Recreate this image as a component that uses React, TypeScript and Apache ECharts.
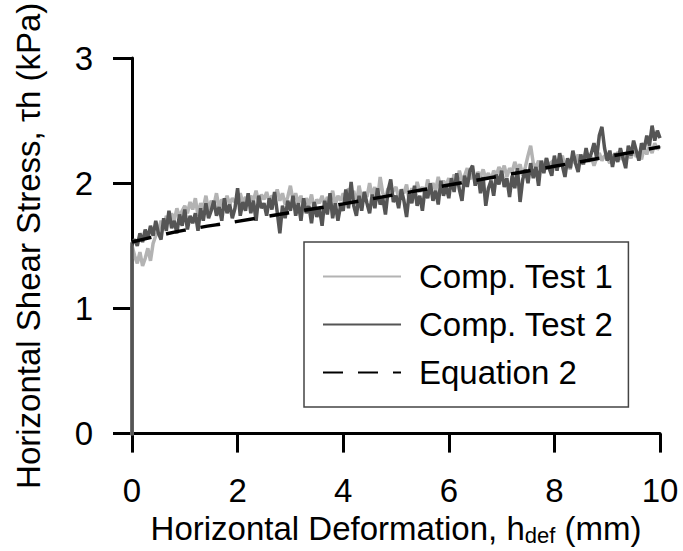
import React, { useEffect, useRef } from "react";
import * as echarts from "echarts";

// Sampling step of the recorded tests (mm)
const STEP = 0.05;
const START_VALUE = -0.08;

const test1Values = [
  1.50, 1.42, 1.36, 1.45, 1.34, 1.40, 1.48, 1.38, 1.52, 1.58, 1.62, 1.70, 1.64, 1.74, 1.68, 1.76, 1.70, 1.80, 1.73, 1.78,
  1.82, 1.76, 1.85, 1.79, 1.88, 1.74, 1.84, 1.80, 1.90, 1.78, 1.86, 1.82, 1.92, 1.80, 1.87, 1.84, 1.90, 1.83, 1.88, 1.85,
  1.86, 1.92, 1.84, 1.89, 1.82, 1.90, 1.86, 1.94, 1.84, 1.91, 1.87, 1.93, 1.85, 1.90, 1.88, 1.95, 1.86, 1.92, 1.83, 1.89,
  1.98, 1.86, 1.92, 1.84, 1.90, 1.80, 1.88, 1.83, 1.91, 1.79, 1.87, 1.84, 1.90, 1.82, 1.89, 1.85, 1.94, 1.83, 1.90, 1.86,
  1.92, 1.85, 1.96, 1.88, 1.94, 1.83, 1.98, 1.87, 1.93, 1.89, 2.00, 1.90, 1.97, 1.86, 2.05, 1.92, 1.88, 1.96, 1.90, 1.94,
  1.97, 1.88, 1.95, 1.92, 1.99, 1.86, 1.96, 1.90, 2.01, 1.93, 1.97, 1.91, 2.03, 1.95, 2.00, 1.94, 2.05, 1.96, 2.02, 1.98,
  2.04, 1.97, 2.07, 2.00, 2.10, 2.02, 2.06, 2.12, 2.03, 2.08, 2.01, 2.09, 2.05, 2.11, 2.04, 2.08, 2.02, 2.10, 2.06, 2.13,
  2.08, 2.14, 2.05, 2.12, 2.09, 2.17, 2.11, 2.15, 2.06, 2.13, 2.22, 2.30, 2.16, 2.12, 2.18, 2.10, 2.15, 2.20, 2.13, 2.17,
  2.19, 2.12, 2.16, 2.22, 2.14, 2.18, 2.11, 2.20, 2.16, 2.23, 2.15, 2.19, 2.25, 2.17, 2.21, 2.14, 2.20, 2.24, 2.18, 2.22,
  2.20, 2.16, 2.23, 2.18, 2.25, 2.19, 2.22, 2.17, 2.24, 2.20, 2.27, 2.21, 2.25, 2.19, 2.28, 2.23, 2.30, 2.24, 2.32, 2.27,
  2.30,
];

const test2Values = [
  1.52, 1.55, 1.50, 1.60, 1.53, 1.63, 1.56, 1.66, 1.58, 1.70, 1.60, 1.55, 1.72, 1.62, 1.78, 1.64, 1.70, 1.60, 1.75, 1.66,
  1.79, 1.63, 1.74, 1.68, 1.76, 1.62, 1.80, 1.70, 1.84, 1.72, 1.78, 1.86, 1.74, 1.81, 1.70, 1.88, 1.76, 1.83, 1.72, 1.80,
  1.96, 1.74, 1.85, 1.78, 1.92, 1.76, 1.86, 1.70, 1.90, 1.80, 1.84, 1.74, 1.88, 1.79, 1.93, 1.77, 1.60, 1.82, 1.72, 1.86,
  1.78, 1.90, 1.74, 1.84, 1.70, 1.88, 1.76, 1.82, 1.68, 1.85, 1.73, 1.80, 1.66, 1.86, 1.75, 1.92, 1.72, 1.84, 1.70, 1.82,
  1.78, 1.95, 1.80, 2.01, 1.82, 1.74, 1.90, 1.78, 1.93, 1.84, 1.76, 1.91, 1.80, 1.96, 1.83, 1.88, 1.75, 1.94, 2.03, 1.85,
  1.90, 1.80, 1.95, 1.86, 1.73, 1.92, 1.84, 1.98, 1.82, 1.90, 1.78, 1.96, 1.88, 2.00, 1.86, 1.94, 1.83, 2.02, 1.90, 1.97,
  1.88, 2.04, 1.93, 2.08, 1.95, 1.86, 2.06, 1.97, 2.10, 2.14, 1.98, 2.08, 1.92, 2.05, 1.82, 1.96, 2.02, 1.90, 2.07, 1.99,
  2.10, 1.97, 2.04, 1.89, 2.06, 1.96, 2.12, 1.85, 2.03, 2.11, 2.00, 2.16, 2.04, 2.13, 1.98, 2.18, 2.08, 2.20, 2.12, 2.06,
  2.22, 2.10, 2.24, 2.14, 2.05, 2.20, 2.12, 2.26, 2.16, 2.09, 2.23, 2.15, 2.28, 2.18, 2.24, 2.32, 2.20, 2.38, 2.45, 2.28,
  2.18, 2.26, 2.13, 2.24, 2.17, 2.28, 2.20, 2.12, 2.30, 2.22, 2.34, 2.26, 2.18, 2.32, 2.27, 2.38, 2.30, 2.46, 2.34, 2.42,
  2.36,
];

const equationX = [0, 0.5, 1, 2, 3, 4, 5, 6, 7, 8, 9, 10];
const equationY = [1.53, 1.58, 1.625, 1.695, 1.765, 1.835, 1.91, 1.985, 2.06, 2.135, 2.21, 2.29];

const xTicks = [0, 2, 4, 6, 8, 10];
const yTicks = [0, 1, 2, 3];

const seriesNames = ["Comp. Test 1", "Comp. Test 2", "Equation 2"];

const FONT = "'Liberation Sans', Arial, sans-serif";
const FS = 33;

function toPairs(values: number[]): [number, number][] {
  const pts: [number, number][] = [[0, START_VALUE]];
  values.forEach((v, i) => pts.push([+(i * STEP).toFixed(2), v]));
  return pts;
}

export default function App() {
  const ref = useRef<HTMLDivElement>(null);

  useEffect(() => {
    if (!ref.current) return;
    const chart = echarts.init(ref.current, null, { renderer: "svg" });
    const axisLine = { show: true, lineStyle: { color: "#000", width: 3 } };
    const axisTick = { show: true, inside: false, length: 19, lineStyle: { color: "#000", width: 3 } };
    chart.setOption({
      animation: false,
      backgroundColor: "#fff",
      textStyle: { fontFamily: FONT },
      grid: { left: 132, right: 23, top: 58, bottom: 116, containLabel: false },
      xAxis: {
        type: "value",
        min: xTicks[0],
        max: xTicks[xTicks.length - 1],
        interval: xTicks[1] - xTicks[0],
        axisLine,
        axisTick,
        splitLine: { show: false },
        axisLabel: { color: "#000", fontSize: FS, fontFamily: FONT, margin: 40 },
        name: "Horizontal Deformation, h{sub|def} (mm)",
        nameLocation: "middle",
        nameGap: 71,
        nameTextStyle: {
          color: "#000",
          fontSize: FS,
          fontFamily: FONT,
          rich: {
            sub: { fontSize: 22, fontFamily: FONT, color: "#000", padding: [14, 0, 0, 0], verticalAlign: "bottom" },
          },
        },
      },
      yAxis: {
        type: "value",
        min: yTicks[0],
        max: yTicks[yTicks.length - 1],
        interval: yTicks[1] - yTicks[0],
        axisLine,
        axisTick,
        splitLine: { show: false },
        axisLabel: { color: "#000", fontSize: FS, fontFamily: FONT, margin: 39 },
        name: "Horizontal Shear Stress, τh (kPa)",
        nameLocation: "middle",
        nameGap: 87,
        nameTextStyle: { color: "#000", fontSize: FS, fontFamily: FONT },
      },
      legend: {
        show: true,
        orient: "vertical",
        left: 304,
        top: 242,
        data: seriesNames,
        itemWidth: 78,
        itemHeight: 14,
        itemGap: 15,
        padding: [18, 15, 18, 18],
        borderColor: "#444",
        borderWidth: 1.5,
        backgroundColor: "#fff",
        itemStyle: { opacity: 0 },
        textStyle: { color: "#000", fontSize: FS, fontFamily: FONT, padding: [0, 0, 0, 13] },
      },
      series: [
        {
          name: seriesNames[0],
          type: "line",
          data: toPairs(test1Values),
          showSymbol: false,
          symbol: "none",
          lineStyle: { color: "#b3b3b3", width: 3.5 },
          itemStyle: { color: "#b3b3b3" },
          z: 2,
        },
        {
          name: seriesNames[1],
          type: "line",
          data: toPairs(test2Values),
          showSymbol: false,
          symbol: "none",
          lineStyle: { color: "#555555", width: 3.5 },
          itemStyle: { color: "#555555" },
          z: 3,
        },
        {
          name: seriesNames[2],
          type: "line",
          data: equationX.map((x, i) => [x, equationY[i]]),
          smooth: true,
          showSymbol: false,
          symbol: "none",
          lineStyle: { color: "#000", width: 3.5, type: [20, 15] },
          itemStyle: { color: "#000" },
          z: 4,
        },
      ],
    });
    return () => chart.dispose();
  }, []);

  return (
    <div
      ref={ref}
      style={{ position: "absolute", left: 0, top: 0, width: 683, height: 551 }}
    />
  );
}
